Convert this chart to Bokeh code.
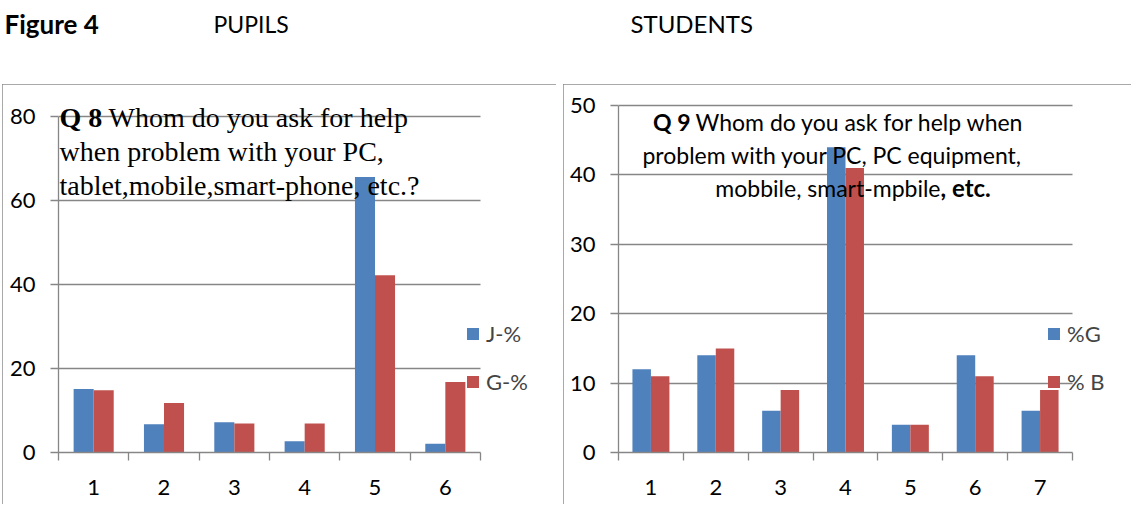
from bokeh.plotting import figure
from bokeh.models import Range1d, FixedTicker, Legend, LegendItem, Label, Spacer, Grid
from bokeh.layouts import column, row
from bokeh.transform import dodge
from bokeh.embed import file_html
from bokeh.resources import INLINE

# ---- data -------------------------------------------------------------
pupil_cats = [1, 2, 3, 4, 5, 6]
pupil_j = [15.1, 6.7, 7.2, 2.7, 65.6, 2.1]
pupil_g = [14.8, 11.8, 6.9, 6.9, 42.2, 16.8]
pupil_names = ["J-%", "G-%"]
pupil_y_ticks = [0, 20, 40, 60, 80]

student_cats = [1, 2, 3, 4, 5, 6, 7]
student_g = [12, 14, 6, 44, 4, 14, 6]
student_b = [11, 15, 9, 41, 4, 11, 9]
student_names = ["%G", "% B"]
student_y_ticks = [0, 10, 20, 30, 40, 50]

# ---- style ------------------------------------------------------------
BLUE = "#4F81BD"
RED = "#C0504D"
GRAY = "#868686"
SANS = "Lato"
SERIF = "Liberation Serif"
BAR_W = 0.285
HAS_CROSS_BOUNDS = "cross_bounds" in Grid.properties()

FIG_H = 420
BORDER_BOTTOM = 52
BORDER_TOP = 2
BORDER_RIGHT = 4


def bar_chart(cats, s1, s2, names, yticks, width, left, axis_w, axis_h, legend_x):
    """Clustered bars. The plot frame is larger than the drawn axes so that
    the legend and the question text can spill past the axis ends; the axis
    lines and grid lines are bounded to the category / value span."""
    frame_w = width - left - BORDER_RIGHT
    frame_h = FIG_H - BORDER_BOTTOM - BORDER_TOP
    n = len(cats)
    ymax = yticks[-1]
    x_end = 0.5 + n * frame_w / axis_w
    y_end = ymax * frame_h / axis_h
    p = figure(width=width, height=FIG_H, output_backend="svg", toolbar_location=None,
               x_range=Range1d(0.5, x_end),
               y_range=Range1d(yticks[0], y_end),
               min_border_left=left, min_border_right=BORDER_RIGHT,
               min_border_top=BORDER_TOP, min_border_bottom=BORDER_BOTTOM,
               styles={"outline": "1.5px solid #8c8c8c", "outline-offset": "-1.5px"})
    p.outline_line_color = None
    p.background_fill_color = "white"
    p.border_fill_color = "white"

    src = {"cat": cats, "a": s1, "b": s2}
    r1 = p.vbar(x=dodge("cat", -BAR_W / 2), top="a", width=BAR_W, source=src,
                fill_color=BLUE, line_color=None)
    r2 = p.vbar(x=dodge("cat", BAR_W / 2), top="b", width=BAR_W, source=src,
                fill_color=RED, line_color=None)

    # grid lines only across the category span
    p.xgrid.visible = False
    if HAS_CROSS_BOUNDS:
        p.ygrid.ticker = FixedTicker(ticks=yticks)
        p.ygrid.grid_line_color = GRAY
        p.ygrid.grid_line_width = 1.3
        p.ygrid.cross_bounds = (0.5, n + 0.5)
    else:
        p.ygrid.visible = False
        p.segment(x0=[0.5] * len(yticks), x1=[n + 0.5] * len(yticks),
                  y0=yticks, y1=yticks, line_color=GRAY, line_width=1.3, level="underlay")

    xa = p.xaxis[0]
    xa.bounds = (0.5, n + 0.5)
    xa.ticker = FixedTicker(ticks=cats, minor_ticks=[c - 0.5 for c in cats] + [n + 0.5])
    xa.major_tick_line_color = None
    xa.minor_tick_line_color = GRAY
    xa.minor_tick_out = 8
    xa.minor_tick_in = 0
    xa.axis_line_color = GRAY
    xa.axis_line_width = 1.3
    xa.minor_tick_line_width = 1.3
    xa.major_label_standoff = 19
    xa.major_label_text_font = SANS
    xa.major_label_text_font_size = "22px"
    xa.major_label_text_color = "black"

    ya = p.yaxis[0]
    ya.bounds = (yticks[0], ymax)
    ya.ticker = FixedTicker(ticks=yticks)
    ya.major_tick_out = 8
    ya.major_tick_in = 0
    ya.major_tick_line_color = GRAY
    ya.major_tick_line_width = 1.3
    ya.minor_tick_line_color = None
    ya.axis_line_color = GRAY
    ya.axis_line_width = 1.3
    ya.major_label_standoff = 15
    ya.major_label_text_font = SANS
    ya.major_label_text_font_size = "22px"
    ya.major_label_text_color = "black"

    legend = Legend(items=[LegendItem(label=names[0], renderers=[r1]),
                           LegendItem(label=names[1], renderers=[r2])],
                    location=(legend_x, 57), orientation="vertical",
                    margin=0, padding=0, spacing=21,
                    glyph_width=15, glyph_height=15, label_height=15,
                    label_standoff=6, border_line_color=None,
                    background_fill_alpha=0,
                    label_text_font=SANS, label_text_font_size="22px")
    p.add_layout(legend, "center")
    return p


def text(p, x, y, s, font, size, bold=False, align="left"):
    p.add_layout(Label(x=x, y=y, x_units="screen", y_units="screen", text=s,
                       text_font=font, text_font_size=size,
                       text_font_style="bold" if bold else "normal",
                       text_align=align, text_baseline="alphabetic",
                       text_color="black"))


# ---- pupils -----------------------------------------------------------
left = bar_chart(pupil_cats, pupil_j, pupil_g, pupil_names, pupil_y_ticks,
                 554, 56, 422, 336, 407)
text(left, 1, 335, "Q 8", SERIF, "28px", bold=True)
text(left, 50, 335, "Whom do you ask for help", SERIF, "28px")
text(left, 1, 301, "when problem with your PC,", SERIF, "28px")
text(left, 1, 267, "tablet,mobile,smart-phone, etc.?", SERIF, "28px")

# ---- students ---------------------------------------------------------
right = bar_chart(student_cats, student_g, student_b, student_names, student_y_ticks,
                  568, 55, 454, 347, 428)
text(right, 72, 331, "Q 9", SANS, "23px", bold=True, align="right")
text(right, 77, 331, "Whom do you ask for help when", SANS, "23px")
text(right, 214, 298, "problem with your PC, PC equipment,", SANS, "23px", align="center")
text(right, 322, 265, "mobbile, smart-mpbile", SANS, "23px", align="right")
text(right, 322, 265, ", etc.", SANS, "24px", bold=True)

# ---- header -----------------------------------------------------------
head = figure(width=1133, height=84, output_backend="svg", toolbar_location=None,
              x_range=Range1d(0, 1), y_range=Range1d(0, 1),
              x_axis_location=None, y_axis_location=None, min_border=0)
head.outline_line_color = None
head.grid.visible = False
text(head, 4, 61, "Figure 4", SANS, "26px", bold=True)
text(head, 213, 61, "PUPILS", SANS, "23px")
text(head, 630, 61, "STUDENTS", SANS, "24px")

page = column(head, row(Spacer(width=2), left, Spacer(width=7), right))

with open("out.html", "w") as f:
    f.write(file_html(page, INLINE))
